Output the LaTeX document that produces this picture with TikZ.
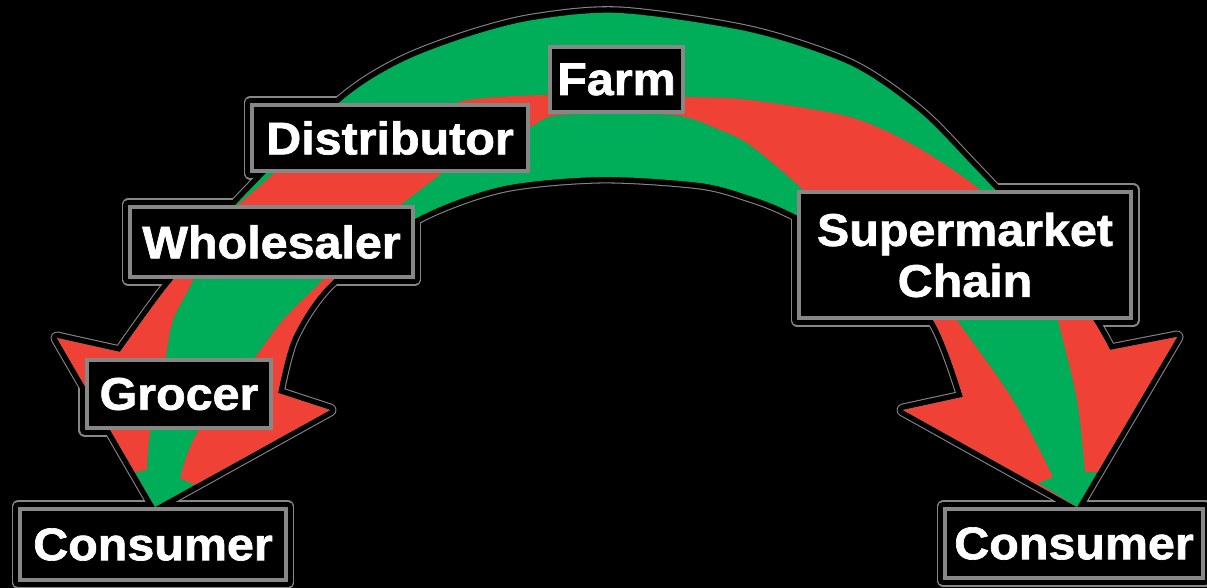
\documentclass[tikz,border=0pt]{standalone}
\usepackage{fontspec}
\setmainfont{Liberation Sans}[BoldFeatures={FakeBold=1.5, FakeStretch=1.06}]
\usepackage{tikz}
\usetikzlibrary{backgrounds}
\definecolor{chainred}{RGB}{239,65,54}
\definecolor{chaingreen}{RGB}{0,173,88}
\definecolor{boxgray}{RGB}{135,135,135}

% outline of the whole double arrow (pixel units)
\newcommand{\archoutline}{(155,507) -- (57,338) -- (120,352)
  -- plot[smooth] coordinates {(120,352) (150,310) (173,280) (240,200) (340,102) (400,63) (467,37) (533,20) (620,13) (750,32) (850,65) (917,110) (967,160) (1040,240) (1093,320) (1110,350)}
  -- (1177,337) -- (1077,507) -- (903,410) -- (963,397)
  -- plot[smooth] coordinates {(963,397) (933,320) (870,255) (790,212) (750,196) (700,183) (600,177) (500,187) (413,220) (330,283) (293,337) (278,393)}
  -- (330,410) -- cycle}

\begin{document}
\begin{tikzpicture}[x=0.02cm, y=-0.02cm,
    stage/.style={draw=boxgray, line width=2.3pt, fill=black, text=white, inner sep=0pt,
      align=center, font=\fontsize{26}{29}\selectfont\bfseries},
    halo/.style={line width=7.4pt, line join=round},
    gap/.style={line width=6.2pt, line join=round, draw=black}]

    \useasboundingbox (0,0) rectangle (1207,588);

    \node[stage, minimum width=2.66cm, minimum height=1.30cm] (farm) at (616.5,79.5) {Farm};
    \node[stage, minimum width=5.52cm, minimum height=1.32cm] (distributor) at (390,138) {Distributor};
    \node[stage, minimum width=5.66cm, minimum height=1.40cm] (wholesaler) at (271.5,242) {Wholesaler};
    \node[stage, minimum width=3.68cm, minimum height=1.36cm] (grocer) at (179,394) {Grocer};
    \node[stage, minimum width=5.32cm, minimum height=1.42cm] (consumerL) at (153,544.5) {Consumer};
    \node[stage, minimum width=6.64cm, minimum height=2.52cm] (supermarket) at (965,255) {Supermarket\\Chain};
    \node[stage, minimum width=5.16cm, minimum height=1.38cm] (consumerR) at (1074,543.5) {Consumer};

    \begin{scope}[on background layer]
    \fill[black] (0,0) rectangle (1207,588);

    % thin grey halo round arrow and boxes
    \foreach \n in {farm,distributor,wholesaler,grocer,consumerL,supermarket,consumerR}
      \draw[halo, draw=boxgray] (\n.north west) rectangle (\n.south east);
    \draw[halo, draw=boxgray] \archoutline;
    \foreach \n in {farm,distributor,wholesaler,grocer,consumerL,supermarket,consumerR}
      \draw[gap] (\n.north west) rectangle (\n.south east);
    \draw[gap] \archoutline;

    \begin{scope}
    \clip \archoutline;
    \fill[chaingreen] (0,0) rectangle (1207,588);

    % left end
    \fill[chainred] (0,250) -- plot[smooth] coordinates {(200,250) (193,280) (173,320) (165,360) (150,433) (147,470)}
      -- (135,472) -- (155,507) -- (155,560) -- (0,560) -- cycle;
    \fill[chainred] (500,240) -- plot[smooth] coordinates {(363,240) (323,280) (283,320) (253,360) (197,433) (180,478)}
      -- (195,485) -- (155,507) -- (155,560) -- (500,560) -- cycle;
    \fill[chainred] (209,230) -- (301,150) -- (472,150) -- (368,230) -- cycle;

    % stripe over the top
    \fill[chainred] plot[smooth] coordinates {(440,112) (467,100) (547,95) (687,97) (750,100) (850,117) (917,147) (980,190) (1010,230)}
      -- plot[smooth] coordinates {(840,230) (800,187) (750,145) (720,130) (673,115) (560,115) (530,127) (480,145)} -- cycle;

    % right end
    \fill[chainred] (850,250) -- plot[smooth] coordinates {(910,250) (957,320) (1013,400) (1053,477)}
      -- (1038,483) -- (1077,507) -- (1077,560) -- (850,560) -- cycle;
    \fill[chainred] (1200,250) -- plot[smooth] coordinates {(1041,250) (1058,320) (1077,400) (1085,472)}
      -- (1100,472) -- (1077,507) -- (1077,560) -- (1200,560) -- cycle;
    \end{scope}
    \end{scope}

\end{tikzpicture}
\end{document}
